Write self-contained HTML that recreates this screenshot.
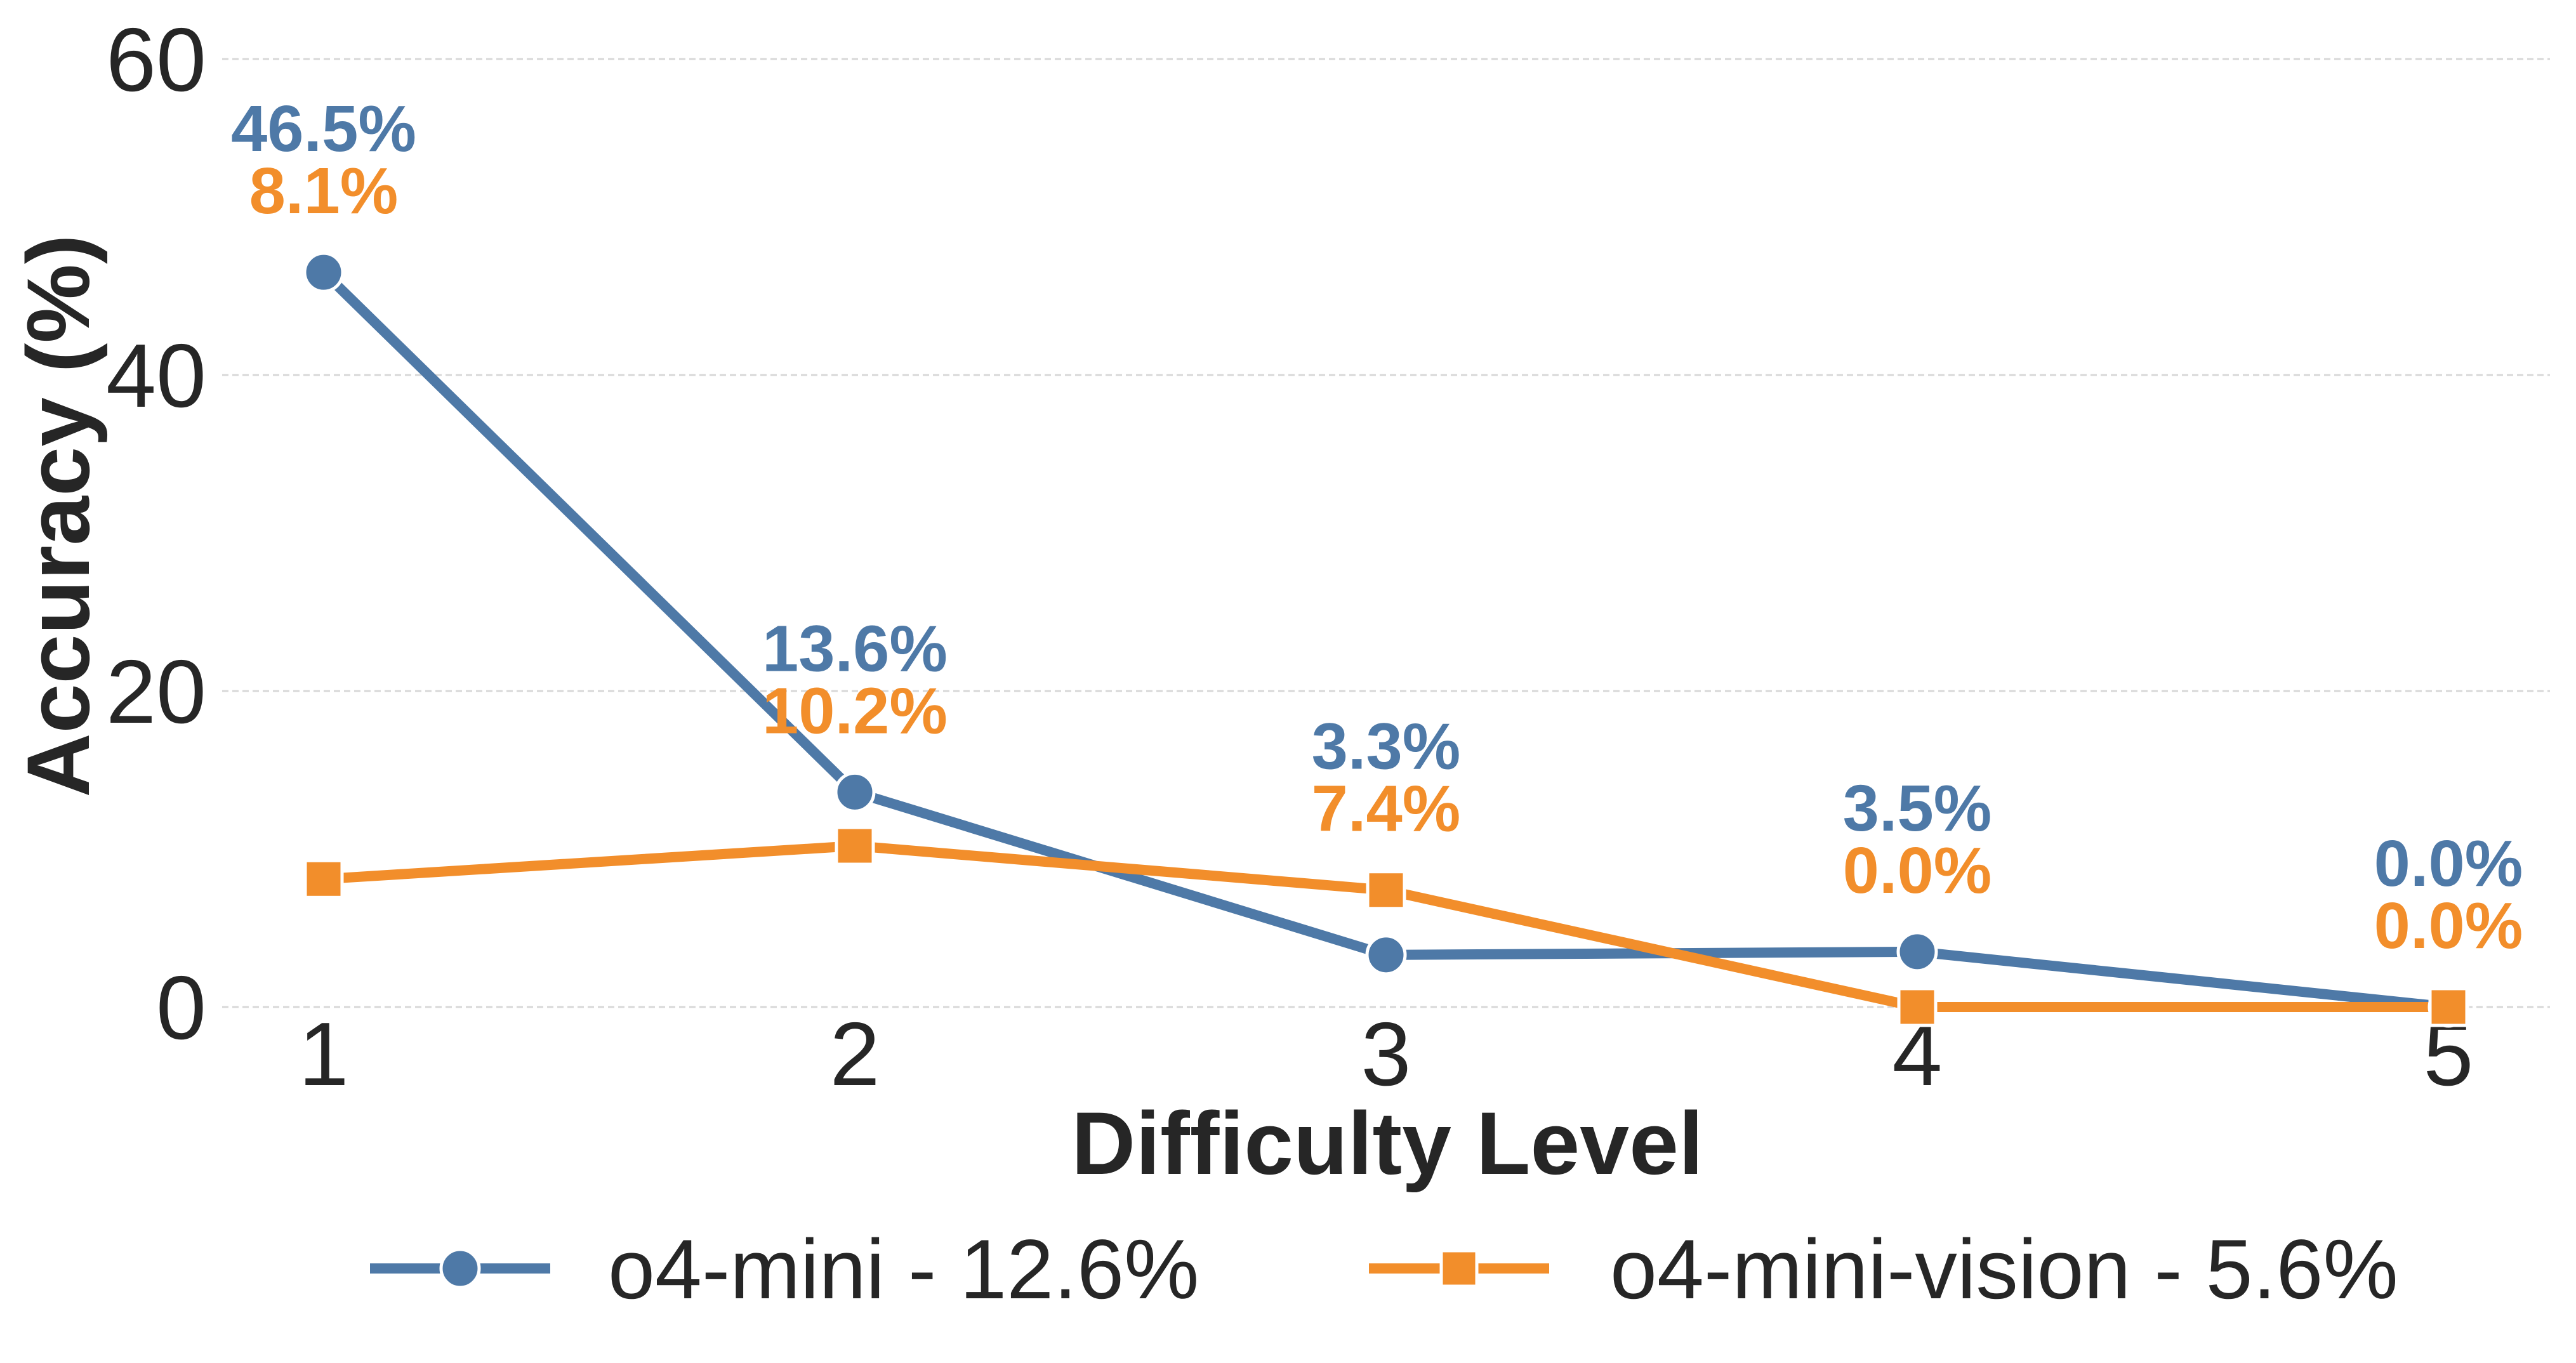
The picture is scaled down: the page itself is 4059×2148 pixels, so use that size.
<!DOCTYPE html>
<html><head><meta charset="utf-8"><style>
html,body{margin:0;padding:0;background:#fff}
svg{display:block;font-family:"Liberation Sans",Arial,sans-serif}
</style></head><body>
<svg id="chart" width="4059" height="2148" viewBox="0 0 4059 2148" xmlns="http://www.w3.org/2000/svg">
<g id="grid"></g>
<g id="yticks"></g>
<g id="xticks"></g>
<g id="series"></g>
<g id="labels"></g>
<text x="0" y="0" transform="translate(140,813) rotate(-90)" text-anchor="middle" font-size="140" font-weight="bold" fill="#262626">Accuracy (%)</text>
<text x="2186" y="1850" text-anchor="middle" font-size="140" font-weight="bold" fill="#262626">Difficulty Level</text>
<g>
<g>
<line x1="583" y1="1999" x2="867" y2="1999" stroke="#4e79a7" stroke-width="16"/>
<circle cx="725" cy="1999" r="30" fill="#4e79a7" stroke="#fff" stroke-width="5"/>
<text x="958" y="2046" font-size="133" fill="#262626">o4-mini - 12.6%</text>
</g>
<g>
<line x1="2157" y1="1999" x2="2441" y2="1999" stroke="#f28e2b" stroke-width="16"/>
<rect x="2271" y="1971" width="56" height="56" fill="#f28e2b" stroke="#fff" stroke-width="5"/>
<text x="2537" y="2046" font-size="133" fill="#262626">o4-mini-vision - 5.6%</text>
</g>
</g>
</svg>
<script>
const categories = [1, 2, 3, 4, 5];
const o4mini = [46.5, 13.6, 3.3, 3.5, 0.0];
const o4miniVision = [8.1, 10.2, 7.4, 0.0, 0.0];
const yTicks = [0, 20, 40, 60];
const NS = "http://www.w3.org/2000/svg";
const xS = v => 510 + (v - 1) * (3858 - 510) / 4;
const yS = v => 1587 - v * (1587 - 93) / 60;
function mk(tag, attrs, parent, txt) {
  const e = document.createElementNS(NS, tag);
  for (const k in attrs) e.setAttribute(k, attrs[k]);
  if (txt !== undefined) e.textContent = txt;
  parent.appendChild(e); return e;
}
const grid = document.getElementById('grid'), yt = document.getElementById('yticks'),
  xt = document.getElementById('xticks'), ser = document.getElementById('series'), lab = document.getElementById('labels');
yTicks.forEach(t => {
  const l = mk('line', {x1: 350, x2: 4018, y1: yS(t), y2: yS(t), stroke: '#d8d8d8', 'stroke-width': 3, 'stroke-dasharray': '10,6'}, grid);
  
  
  const tx = mk('text', {x: 325, y: yS(t) + 50, 'text-anchor': 'end', 'font-size': 142, fill: '#262626'}, yt, String(t));
  
  
});
categories.forEach(c => {
  const tx = mk('text', {x: xS(c), y: 1710, 'text-anchor': 'middle', 'font-size': 142, fill: '#262626'}, xt, String(c));
  
  
});
function line(vals, color, name) {
  const p = mk('polyline', {points: vals.map((v, i) => xS(categories[i]) + ',' + yS(v)).join(' '), fill: 'none', stroke: color, 'stroke-width': 16, 'stroke-linejoin': 'round'}, ser);
  
  
}
line(o4mini, '#4e79a7', 'o4-mini');
line(o4miniVision, '#f28e2b', 'o4-mini-vision');
o4mini.forEach((v, i) => {
  const c = mk('circle', {cx: xS(categories[i]), cy: yS(v), r: 30, fill: '#4e79a7', stroke: '#fff', 'stroke-width': 5}, ser);
  
  
});
o4miniVision.forEach((v, i) => {
  const r = mk('rect', {x: xS(categories[i]) - 29, y: yS(v) - 29, width: 58, height: 58, fill: '#f28e2b', stroke: '#fff', 'stroke-width': 5}, ser);
  
  
});
categories.forEach((c, i) => {
  const top = yS(Math.max(o4mini[i], o4miniVision[i]));
  const a = mk('text', {x: xS(c), y: top - 228 + 37, 'text-anchor': 'middle', 'font-size': 103, 'font-weight': 'bold', fill: '#4e79a7'}, lab, o4mini[i].toFixed(1) + '%');
  
  
  const b = mk('text', {x: xS(c), y: top - 130 + 37, 'text-anchor': 'middle', 'font-size': 103, 'font-weight': 'bold', fill: '#f28e2b'}, lab, o4miniVision[i].toFixed(1) + '%');
  
  
});
</script>
</body></html>
